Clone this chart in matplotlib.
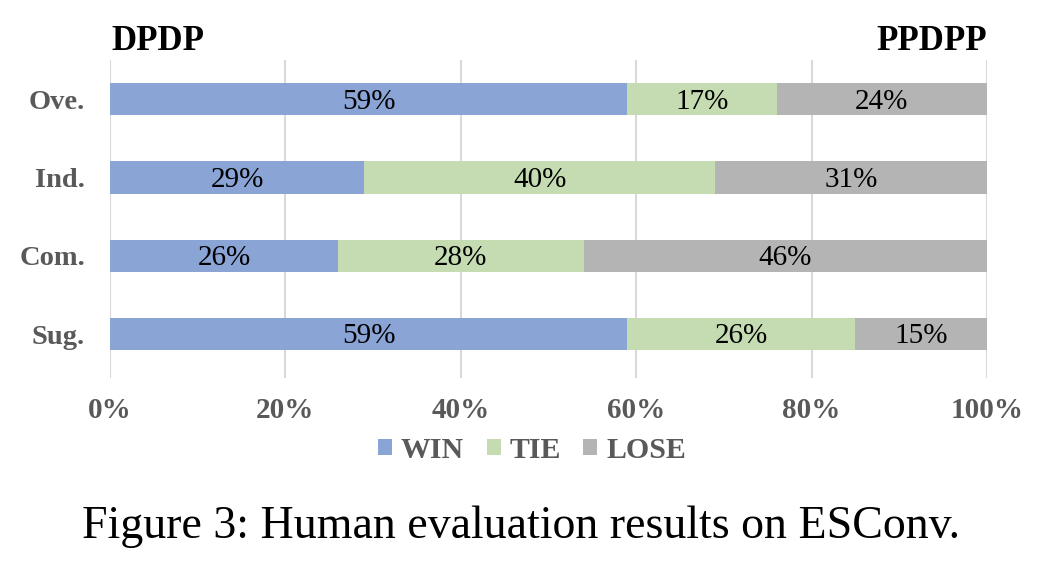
import matplotlib
matplotlib.use('Agg')
import numpy as np
import matplotlib.pyplot as plt
from matplotlib.patches import Patch

categories = ['Ove.', 'Ind.', 'Com.', 'Sug.']
win = [59, 29, 26, 59]
tie = [17, 40, 28, 26]
lose = [24, 31, 46, 15]
series_names = ['WIN', 'TIE', 'LOSE']
colors = ['#8AA4D6', '#C5DCB2', '#B4B4B4']
xticks = [0, 20, 40, 60, 80, 100]

plt.rcParams['font.family'] = ['Liberation Serif', 'DejaVu Serif']

fig = plt.figure(figsize=(10.42, 5.70), dpi=100)
ax = fig.add_axes([110 / 1042, 1 - 378 / 570, 877 / 1042, 318 / 570])

ypos = np.arange(len(categories))[::-1]
left = np.zeros(len(categories))
for name, vals, col in zip(series_names, [win, tie, lose], colors):
    vals = np.array(vals, dtype=float)
    ax.barh(ypos, vals, left=left, height=0.41, color=col, zorder=2)
    for y, l, v in zip(ypos, left, vals):
        ax.text(l + v / 2, y - 0.03, '{0}%'.format(int(v)), ha='center', va='center',
                fontsize=21, color='black', zorder=3)
    left += vals

ax.set_xlim(0, 100)
ax.set_ylim(-0.56, 3.5)
ax.set_xticks(xticks)
ax.set_xticklabels(['{0}%'.format(t) for t in xticks], fontsize=21,
                   fontweight='bold', color='#595959')
ax.set_yticks(ypos)
ax.set_yticklabels(categories, fontsize=20.5, fontweight='bold', color='#595959')
ax.tick_params(axis='both', length=0)
ax.tick_params(axis='x', pad=14)
ax.tick_params(axis='y', pad=18)
ax.grid(axis='x', color='#D9D9D9', linewidth=1.5, zorder=0)
for s in ax.spines.values():
    s.set_visible(False)

ax.text(0.002, 1.005, 'DPDP', transform=ax.transAxes, ha='left', va='bottom',
        fontsize=25, fontweight='bold')
ax.text(1, 1.005, 'PPDPP', transform=ax.transAxes, ha='right', va='bottom',
        fontsize=25, fontweight='bold')

handles = [Patch(facecolor=c, label=n) for n, c in zip(series_names, colors)]
fig.legend(handles=handles, loc='center', bbox_to_anchor=(532 / 1042, 1 - 450 / 570),
           ncol=3, frameon=False, handlelength=0.47, handleheight=0.47,
           handletextpad=0.3, columnspacing=0.75,
           prop={'size': 21.5, 'weight': 'bold'}, labelcolor='#595959')

fig.text(521 / 1042, 1 - 527 / 570, 'Figure 3: Human evaluation results on ESConv.',
         ha='center', va='center', fontsize=33)

plt.savefig('out.png', dpi=100)
